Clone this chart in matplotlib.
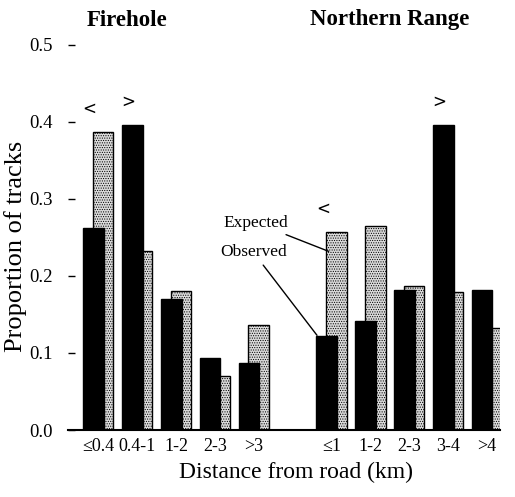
import matplotlib.pyplot as plt
import numpy as np

plt.rcParams['font.family'] = ['Liberation Serif', 'DejaVu Serif']
plt.rcParams['hatch.linewidth'] = 0.5

# Data
fire_labels = ['≤0.4', '0.4-1', '1-2', '2-3', '>3']
fire_obs = [0.262, 0.396, 0.170, 0.094, 0.087]
fire_exp = [0.387, 0.232, 0.180, 0.070, 0.137]
fire_marks = ['<', '>', '', '', '']

north_labels = ['≤1', '1-2', '2-3', '3-4', '>4']
north_obs = [0.122, 0.142, 0.182, 0.396, 0.182]
north_exp = [0.257, 0.265, 0.187, 0.179, 0.132]
north_marks = ['<', '', '', '>', '']

# Layout
x = np.concatenate([np.arange(5), np.arange(6, 11)])
obs = fire_obs + north_obs
exp = fire_exp + north_exp
labels = fire_labels + north_labels
marks = fire_marks + north_marks
w = 0.53
off = 0.25

fig = plt.figure(figsize=(5.15, 4.97), dpi=100)
ax = fig.add_axes([0.132, 0.1348, 0.839, 0.7747])

ax.bar(x + off, exp, width=w, facecolor='#dadada', edgecolor='black',
       hatch='.......', linewidth=1.0, zorder=1)
ax.bar(x, obs, width=w, color='black', edgecolor='black', linewidth=1.0, zorder=2)

for xi, o, e, m in zip(x, obs, exp, marks):
    if m:
        ax.text(xi - 0.1, max(o, e) + 0.03, m, ha='center', va='center',
                fontsize=12, family='DejaVu Sans')

# Expected / Observed callouts on the first Northern Range pair
ax.annotate('Expected', xy=(6.05, 0.232), xytext=(4.18, 0.269),
            ha='center', va='center', fontsize=12.5,
            arrowprops=dict(arrowstyle='-', color='black', lw=1.0, shrinkA=2, shrinkB=0))
ax.annotate('Observed', xy=(5.75, 0.123), xytext=(4.11, 0.231),
            ha='center', va='center', fontsize=12.5,
            arrowprops=dict(arrowstyle='-', color='black', lw=1.0, shrinkA=2, shrinkB=0))

ax.set_xlim(-0.656, 10.46)
ax.set_ylim(0, 0.5)
ax.set_yticks([0.0, 0.1, 0.2, 0.3, 0.4, 0.5])
ax.set_yticklabels(['0.0', '0.1', '0.2', '0.3', '0.4', '0.5'], fontsize=13.5)
ax.set_xticks(x + off / 2)
ax.set_xticklabels(labels, fontsize=13)
ax.tick_params(axis='x', length=0, pad=6)
ax.tick_params(axis='y', direction='in', length=5, width=1, pad=11)

for s in ['left', 'top', 'right']:
    ax.spines[s].set_visible(False)
ax.spines['bottom'].set_linewidth(1.5)

fig.text(16 / 515, 1 - 246 / 497, 'Proportion of tracks', rotation=90,
         ha='center', va='center', fontsize=19)
fig.text(296 / 515, 1 - 472 / 497, 'Distance from road (km)',
         ha='center', va='center', fontsize=17)
fig.text(127 / 515, 1 - 20 / 497, 'Firehole', ha='center', va='center',
         fontsize=16.5, fontweight='bold')
fig.text(390 / 515, 1 - 20 / 497, 'Northern Range', ha='center', va='center',
         fontsize=16.5, fontweight='bold')

fig.savefig('out.png', dpi=100)
